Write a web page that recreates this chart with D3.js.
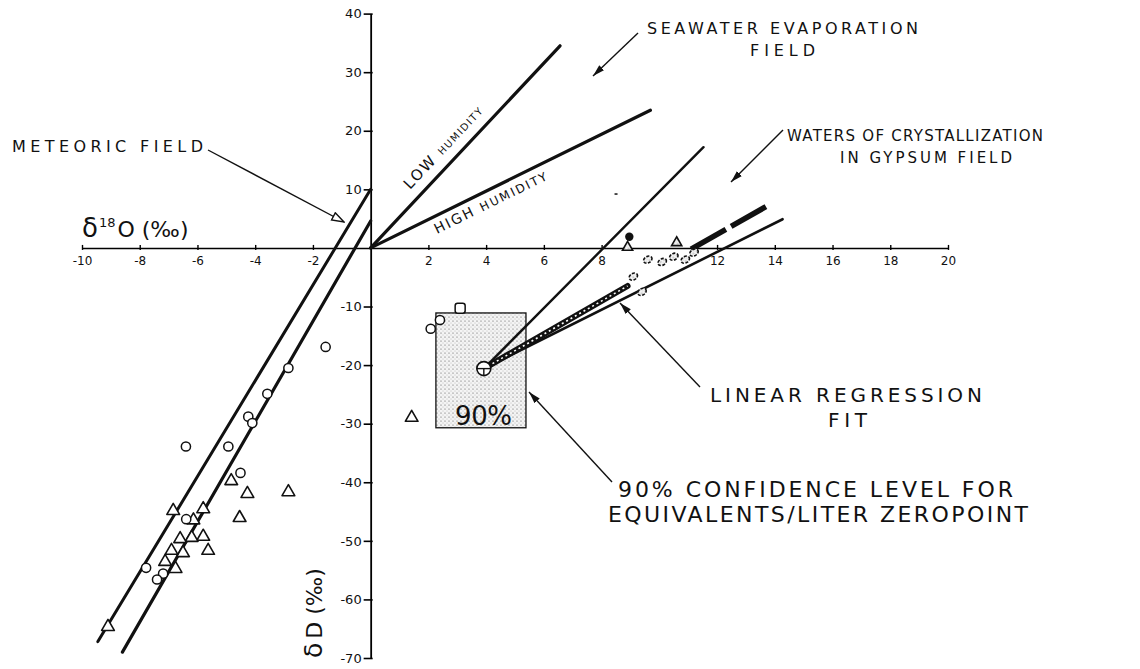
<!DOCTYPE html>
<html><head><meta charset="utf-8">
<script src="https://cdn.jsdelivr.net/npm/d3@7"></script>
<style>
body{margin:0;background:#fff}
svg{display:block}
text{font-family:"DejaVu Sans",sans-serif;fill:#111}
</style>
</head><body>
<svg id="c" width="1140" height="669"></svg>
<script>
// ---------- data ----------
const xTicks = [-10,-8,-6,-4,-2,2,4,6,8,12,14,16,18,20];
const yTicks = [40,30,20,10,-10,-20,-30,-40,-50,-60,-70];

const meteoricCircles = [[-1.56,-16.9],[-2.85,-20.5],[-3.58,-24.9],[-4.24,-28.8],[-4.1,-29.9],
  [-6.4,-33.9],[-4.93,-33.9],[-4.51,-38.4],[-6.39,-46.3],[-7.78,-54.6],[-7.19,-55.6],[-7.4,-56.6]];
const meteoricTriangles = [[-2.85,-41.5],[-4.83,-39.6],[-4.27,-41.8],[-4.54,-45.9],[-6.84,-44.7],
  [-5.8,-44.4],[-6.14,-46.3],[-5.8,-49.1],[-6.2,-49.3],[-6.6,-49.5],[-5.63,-51.5],[-6.5,-51.9],
  [-6.9,-51.5],[-7.12,-53.4],[-6.76,-54.6],[-9.1,-64.5],[1.42,-28.8]];
const boxCircles = [[2.08,-13.8],[2.4,-12.3]];
const boxSquares = [[3.1,-10.3]];
const gypsumFilled = [[8.96,1.9]];
const gypsumTriangles = [[10.6,0.9],[8.9,0.1]];
const gypsumCluster = [[9.6,-2.0],[10.1,-2.4],[10.5,-1.5],[10.9,-2.0],[9.1,-4.9],[9.4,-7.5],[11.2,-0.8]];
const gypsumDash = [[8.5,9.2]];

const meteoricLine = [[-9.45,-67.2],[0,10]];
const meteoricLine2 = [[-8.6,-69],[0,4.6]];
const lowHumidityLine = [[0,0],[6.56,34.5]];
const highHumidityLine = [[0,0],[9.69,23.5]];
const zeroPoint = [[3.92,-20.6]];
const gypsumUpperLine = [[3.92,-20.6],[11.53,17.2]];
const regressionLine = [[3.92,-20.6],[14.27,4.9]];
const gypsumBand = [[3.92,-20.6],[8.9,-6.5]];
const gypsumDashLine = [[11.1,-0.2],[13.75,7.2]];
const confX = [2.26,5.38];
const confY = [-30.7,-11.1];

// ---------- setup ----------
const svg = d3.select("#c");
const x = d3.scaleLinear().domain([-10,20]).range([82,948]);
const y = d3.scaleLinear().domain([-70,40]).range([658,13.6]);
const line = d3.line().x(d=>x(d[0])).y(d=>y(d[1]));

const defs = svg.append("defs");
const pat = defs.append("pattern").attr("id","stip").attr("width",4).attr("height",4)
  .attr("patternUnits","userSpaceOnUse");
pat.append("rect").attr("width",4).attr("height",4).attr("fill","#f4f4f4");
pat.append("circle").attr("cx",1).attr("cy",1).attr("r",0.6).attr("fill","#555");
pat.append("circle").attr("cx",3).attr("cy",3).attr("r",0.45).attr("fill","#888");
defs.append("marker").attr("id","ah").attr("viewBox","0 0 12 8").attr("refX",12).attr("refY",4)
  .attr("markerWidth",12).attr("markerHeight",8).attr("markerUnits","userSpaceOnUse").attr("orient","auto")
  .append("path").attr("d","M0,0.5L12,4L0,7.5Z").attr("fill","#111");
defs.append("marker").attr("id","ao").attr("viewBox","0 0 14 10").attr("refX",13).attr("refY",5)
  .attr("markerWidth",14).attr("markerHeight",10).attr("markerUnits","userSpaceOnUse").attr("orient","auto")
  .append("path").attr("d","M1,1L13,5L1,9Z").attr("fill","#fff").attr("stroke","#111").attr("stroke-width",1.4);

// confidence box
svg.append("rect").attr("x",x(confX[0])).attr("y",y(confY[1]))
  .attr("width",x(confX[1])-x(confX[0])).attr("height",y(confY[0])-y(confY[1]))
  .attr("fill","url(#stip)").attr("stroke","#111").attr("stroke-width",1.3);

// axes
const fmt = d=>String(d);
const gx = svg.append("g").attr("transform",`translate(0,${y(0)})`)
  .call(d3.axisBottom(x).tickValues(xTicks).tickSize(-3).tickSizeOuter(0).tickPadding(9).tickFormat(fmt));
gx.selectAll(".tick line").attr("y1",2).attr("y2",-3).attr("stroke-width",1.4);
gx.select(".domain").attr("stroke-width",1.4);
gx.selectAll("text").attr("font-size",12).attr("font-family","DejaVu Sans").attr("fill","#111");

const gy = svg.append("g").attr("transform",`translate(${x(0)},0)`)
  .call(d3.axisLeft(y).tickValues(yTicks).tickSize(7).tickPadding(2).tickSizeOuter(0).tickFormat(fmt));
gy.selectAll(".tick line").attr("x1",2).attr("stroke-width",1.6);
gy.select(".domain").attr("stroke-width",1.8);
gy.selectAll("text").attr("font-size",13).attr("font-family","DejaVu Sans").attr("fill","#111");

// lines
const drawLine = (d,w)=>svg.append("path").attr("d",line(d)).attr("fill","none")
  .attr("stroke","#111").attr("stroke-width",w).attr("stroke-linecap","round");
drawLine(meteoricLine,3);
drawLine(meteoricLine2,3.2);
drawLine(lowHumidityLine,3.2);
drawLine(highHumidityLine,3.2);
drawLine(gypsumUpperLine,2.4);
drawLine(regressionLine,2.6);
drawLine(gypsumBand,6);
svg.append("path").attr("d",line(gypsumBand)).attr("fill","none").attr("stroke","#fff")
  .attr("stroke-width",1.6).attr("stroke-dasharray","2,3");
drawLine(gypsumDashLine,5.5).attr("stroke-dasharray","40,6").attr("stroke-linecap","butt");

// symbols
const tri = d3.symbol().type(d3.symbolTriangle).size(70);
svg.append("g").selectAll("path").data(meteoricTriangles).join("path")
  .attr("transform",d=>`translate(${x(d[0])},${y(d[1])+1})`).attr("d",tri)
  .attr("fill","#fff").attr("stroke","#111").attr("stroke-width",1.6).attr("stroke-linejoin","round");
svg.append("g").selectAll("circle").data(meteoricCircles.concat(boxCircles)).join("circle")
  .attr("cx",d=>x(d[0])).attr("cy",d=>y(d[1])).attr("r",4.6)
  .attr("fill","#fff").attr("stroke","#111").attr("stroke-width",1.5);
svg.append("g").selectAll("rect").data(boxSquares).join("rect")
  .attr("x",d=>x(d[0])-5).attr("y",d=>y(d[1])-5).attr("width",10).attr("height",10).attr("rx",2.5)
  .attr("fill","#fff").attr("stroke","#111").attr("stroke-width",1.5);
svg.append("g").selectAll("circle").data(gypsumFilled).join("circle")
  .attr("cx",d=>x(d[0])).attr("cy",d=>y(d[1])).attr("r",4.2).attr("fill","#111");
svg.append("g").selectAll("path").data(gypsumTriangles).join("path")
  .attr("transform",d=>`translate(${x(d[0])},${y(d[1])})`).attr("d",d3.symbol().type(d3.symbolTriangle).size(45))
  .attr("fill","url(#stip)").attr("stroke","#111").attr("stroke-width",1.6);
svg.append("g").selectAll("ellipse").data(gypsumCluster).join("ellipse")
  .attr("cx",d=>x(d[0])).attr("cy",d=>y(d[1])).attr("rx",4.5).attr("ry",3.2)
  .attr("transform",d=>`rotate(-30,${x(d[0])},${y(d[1])})`)
  .attr("fill","url(#stip)").attr("stroke","#111").attr("stroke-width",1.6).attr("stroke-dasharray","3,1.5");
svg.append("g").selectAll("line").data(gypsumDash).join("line")
  .attr("x1",d=>x(d[0])-1.5).attr("x2",d=>x(d[0])+1.5).attr("y1",d=>y(d[1])).attr("y2",d=>y(d[1]))
  .attr("stroke","#111").attr("stroke-width",1.5);

// zero point symbol
const zp = svg.append("g").selectAll("g").data(zeroPoint).join("g")
  .attr("transform",d=>`translate(${x(d[0])},${y(d[1])})`);
zp.append("circle").attr("r",7).attr("fill","#fff").attr("stroke","#111").attr("stroke-width",1.6);
zp.append("line").attr("x1",-7).attr("x2",7).attr("stroke","#111").attr("stroke-width",1.4);
zp.append("line").attr("y1",0).attr("y2",7).attr("stroke","#111").attr("stroke-width",1.4);

// annotation arrows (pixel layout)
const arrow = (x1,y1,x2,y2,m)=>svg.append("line").attr("x1",x1).attr("y1",y1).attr("x2",x2).attr("y2",y2)
  .attr("stroke","#111").attr("stroke-width",1.4).attr("marker-end",`url(#${m})`);
arrow(208,150,344,222,"ao");
arrow(638,33,593,76,"ah");
arrow(783,130,731,182,"ah");
arrow(700,387,620,303,"ah");
arrow(612,482,529,392,"ah");

// texts
const txt = (s,xx,yy,fs,len,anchor)=>{
  const t = svg.append("text").attr("x",xx).attr("y",yy).attr("font-size",fs).text(s);
  if(len) t.attr("textLength",len).attr("lengthAdjust","spacing");
  if(anchor) t.attr("text-anchor",anchor);
  return t;
};
txt("SEAWATER EVAPORATION",647,34,16,271);
txt("FIELD",750,56,16,65);
txt("WATERS OF CRYSTALLIZATION",787,141,15,256);
txt("IN GYPSUM FIELD",840,163,15,172);
txt("METEORIC FIELD",12,152,16,191);
txt("LINEAR REGRESSION",710,402,20,272);
txt("FIT",828,427,20,39);
txt("90% CONFIDENCE LEVEL FOR",618,497,22,395);
txt("EQUIVALENTS/LITER ZEROPOINT",608,522,22,420);
txt("90%",455,425,26,57);

// axis titles
const ox = svg.append("text").attr("x",82).attr("y",237).attr("font-size",22);
ox.append("tspan").attr("font-size",26).text("δ");
ox.append("tspan").attr("font-size",13).attr("dy",-10).attr("dx",1).text("18");
ox.append("tspan").attr("dy",10).attr("dx",2).text("O (‰)");
const oy = svg.append("text").attr("transform","translate(322,658) rotate(-90)").attr("font-size",22);
oy.append("tspan").attr("font-size",25).text("δ");
oy.append("tspan").attr("dx",4).text("D (‰)");

// humidity labels along lines
const lowAng = Math.atan2(y(lowHumidityLine[1][1])-y(0), x(lowHumidityLine[1][0])-x(0))*180/Math.PI;
const highAng = Math.atan2(y(highHumidityLine[1][1])-y(0), x(highHumidityLine[1][0])-x(0))*180/Math.PI;
const lowT = svg.append("text").attr("transform",`translate(410,190) rotate(${lowAng})`);
lowT.append("tspan").attr("font-size",15).attr("letter-spacing",2).text("LOW ");
lowT.append("tspan").attr("font-size",10).attr("letter-spacing",1.5).text("HUMIDITY");
const highT = svg.append("text").attr("transform",`translate(437,234) rotate(${highAng})`);
highT.append("tspan").attr("font-size",14).attr("letter-spacing",2).text("HIGH ");
highT.append("tspan").attr("font-size",12).attr("letter-spacing",2).text("HUMIDITY");
</script>
</body></html>
